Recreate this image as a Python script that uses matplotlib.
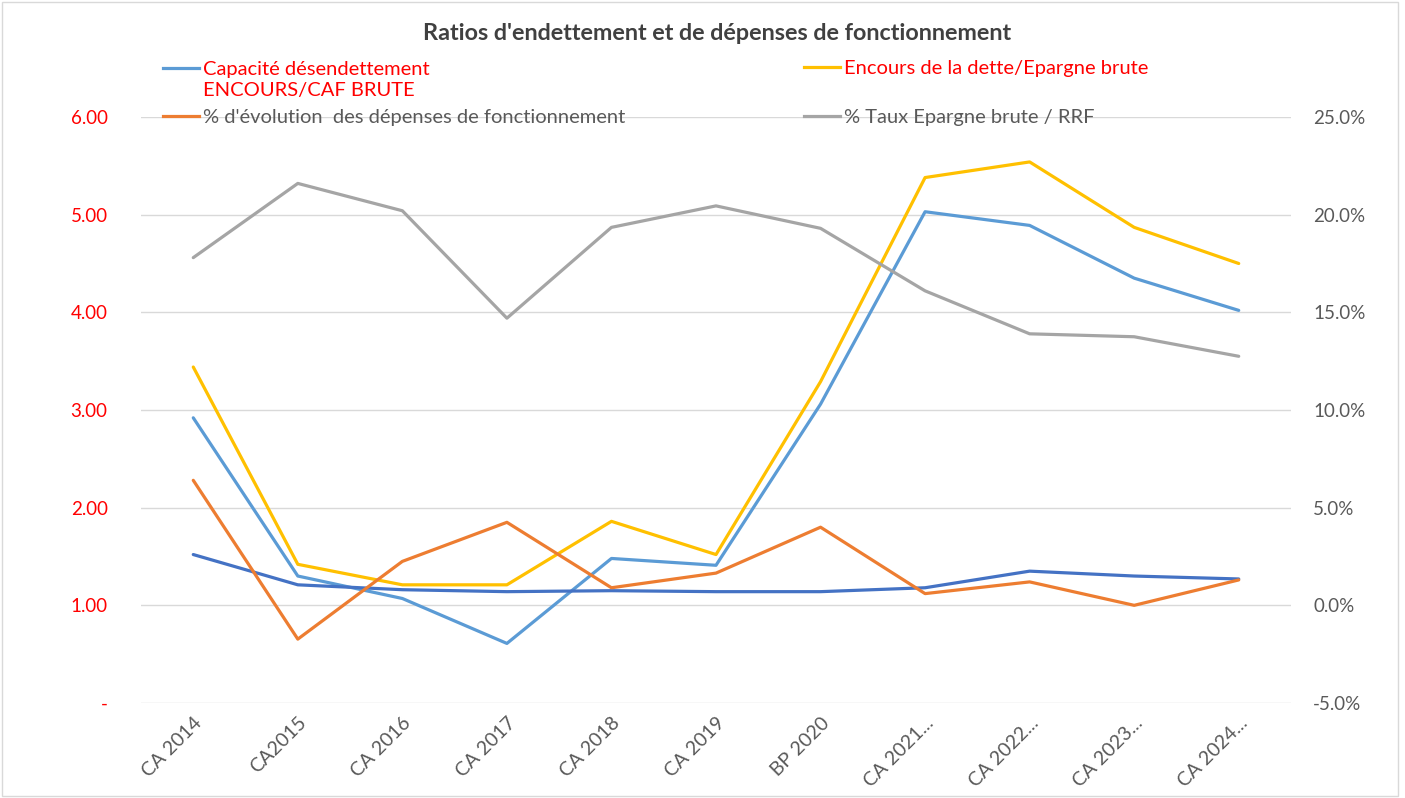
import matplotlib
matplotlib.use("Agg")
import matplotlib.pyplot as plt
from matplotlib.lines import Line2D
from matplotlib.patches import Rectangle
from matplotlib.ticker import FuncFormatter

plt.rcParams['font.family'] = ['Lato', 'DejaVu Sans']

# Data
categories = ["CA 2014", "CA2015", "CA 2016", "CA 2017", "CA 2018", "CA 2019",
              "BP 2020", "CA 2021...", "CA 2022...", "CA 2023...", "CA 2024..."]
capacite = [2.92, 1.30, 1.07, 0.61, 1.48, 1.41, 3.06, 5.03, 4.89, 4.35, 4.02]
encours_epargne = [3.44, 1.42, 1.21, 1.21, 1.86, 1.52, 3.29, 5.38, 5.54, 4.87, 4.50]
serie_sans_legende = [1.52, 1.21, 1.16, 1.14, 1.15, 1.14, 1.14, 1.18, 1.35, 1.30, 1.27]
evol_depenses = [6.4, -1.73, 2.25, 4.25, 0.9, 1.65, 4.0, 0.6, 1.2, 0.0, 1.3]
taux_epargne = [17.8, 21.6, 20.2, 14.7, 19.35, 20.45, 19.3, 16.1, 13.9, 13.75, 12.75]

left_ticks = [0, 1, 2, 3, 4, 5, 6]
right_ticks = [-5, 0, 5, 10, 15, 20, 25]

RED = '#ff0000'
GREY_TXT = '#595959'
C_BLUE = '#5b9bd5'
C_YELLOW = '#ffc000'
C_ORANGE = '#ed7d31'
C_GREY = '#a5a5a5'
C_DARK = '#4472c4'

W, H = 1405, 798
fig = plt.figure(figsize=(W / 100, H / 100), dpi=100)

# plot area in pixels: x 141..1291, y 117..703
ax = fig.add_axes([141 / W, (H - 703) / H, 1150 / W, 586 / H])
ax2 = ax.twinx()

x = list(range(len(categories)))
lw = 2.3

# Left axis series
ax.plot(x, capacite, color=C_BLUE, lw=lw, solid_capstyle='round', zorder=3)
ax.plot(x, encours_epargne, color=C_YELLOW, lw=lw, solid_capstyle='round', zorder=3)
ax.plot(x, serie_sans_legende, color=C_DARK, lw=lw, solid_capstyle='round', zorder=4)

# Right axis series
ax2.plot(x, evol_depenses, color=C_ORANGE, lw=lw, solid_capstyle='round')
ax2.plot(x, taux_epargne, color=C_GREY, lw=lw, solid_capstyle='round')

ax.set_xlim(-0.5, len(categories) - 0.5)
ax.set_ylim(0, 6)
ax2.set_ylim(-5, 25)

ax.set_yticks(left_ticks)
ax2.set_yticks(right_ticks)
ax.yaxis.set_major_formatter(FuncFormatter(lambda v, p: "-" if v == 0 else f"{v:.2f}"))
ax2.yaxis.set_major_formatter(FuncFormatter(lambda v, p: f"{v:.1f}%"))

ax.grid(axis='y', color='#d9d9d9', lw=1.0)
ax.set_axisbelow(True)

for a in (ax, ax2):
    for s in a.spines.values():
        s.set_visible(False)

ax.tick_params(axis='y', length=0, pad=24, labelsize=13.5, labelcolor=RED)
ax2.tick_params(axis='y', length=0, pad=16, labelsize=13.5, labelcolor=GREY_TXT)

ax.set_xticks(x)
ax.set_xticklabels(categories, rotation=45, ha='right', va='top',
                   rotation_mode='anchor', color=GREY_TXT, fontsize=14)
ax.tick_params(axis='x', length=0, pad=8)

# Title
fig.text(717 / W, 1 - 34 / H, "Ratios d'endettement et de dépenses de fonctionnement",
         ha='center', va='center', fontsize=16.8, fontweight='bold', color='#404040')

# Legend (Excel-like, two columns)
legend_items = [
    (163, 68, C_BLUE, "Capacité désendettement\nENCOURS/CAF BRUTE", RED),
    (804, 67, C_YELLOW, "Encours de la dette/Epargne brute", RED),
    (163, 116, C_ORANGE, "% d'évolution  des dépenses de fonctionnement", GREY_TXT),
    (804, 116, C_GREY, "% Taux Epargne brute / RRF", GREY_TXT),
]
for lx, ly, col, label, tcol in legend_items:
    fig.add_artist(Line2D([lx / W, (lx + 36) / W], [1 - ly / H, 1 - ly / H],
                          color=col, lw=2.3, transform=fig.transFigure))
    fig.text((lx + 40) / W, 1 - (ly - 7) / H, label, ha='left', va='top',
             fontsize=14.5, color=tcol, linespacing=1.3)

# Outer frame
fig.add_artist(Rectangle((2 / W, 2 / H), (W - 9) / W, (H - 4) / H,
                         fill=False, edgecolor='#d9d9d9', lw=1,
                         transform=fig.transFigure))

fig.savefig("out.png", dpi=100)
